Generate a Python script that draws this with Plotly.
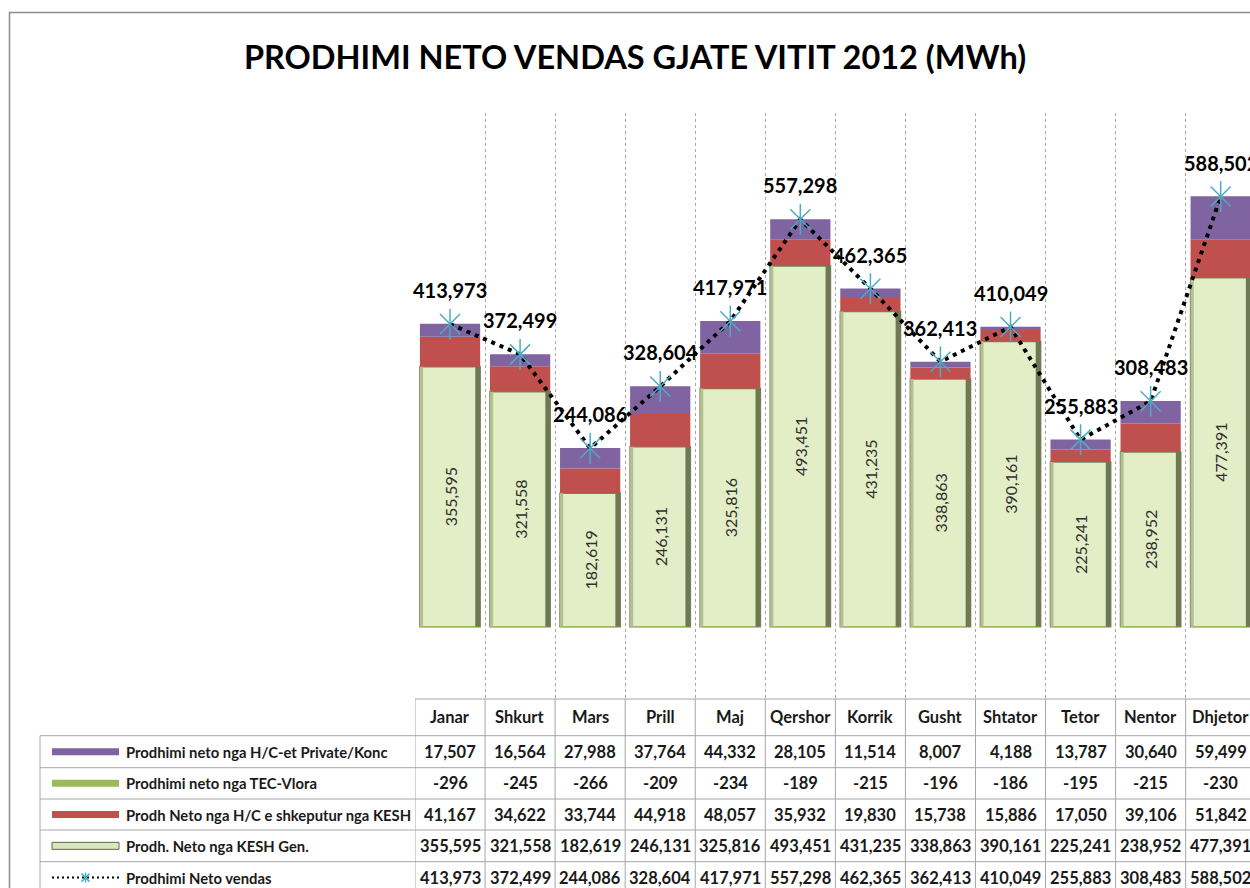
import plotly.graph_objects as go

# ---------------- data ----------------
months = ["Janar", "Shkurt", "Mars", "Prill", "Maj", "Qershor", "Korrik",
          "Gusht", "Shtator", "Tetor", "Nentor", "Dhjetor"]
private_konc = [17507, 16564, 27988, 37764, 44332, 28105, 11514, 8007, 4188, 13787, 30640, 59499]
tec_vlora = [-296, -245, -266, -209, -234, -189, -215, -196, -186, -195, -215, -230]
hc_shkeputur = [41167, 34622, 33744, 44918, 48057, 35932, 19830, 15738, 15886, 17050, 39106, 51842]
kesh_gen = [355595, 321558, 182619, 246131, 325816, 493451, 431235, 338863, 390161, 225241, 238952, 477391]
neto_vendas = [413973, 372499, 244086, 328604, 417971, 557298, 462365, 362413, 410049, 255883, 308483, 588502]

series_names = ["Prodhimi neto nga H/C-et Private/Konc",
                "Prodhimi neto nga TEC-Vlora",
                "Prodh Neto nga H/C e shkeputur nga KESH",
                "Prodh. Neto nga KESH Gen.",
                "Prodhimi Neto vendas"]
table_rows = [private_konc, tec_vlora, hc_shkeputur, kesh_gen, neto_vendas]

title_text = "PRODHIMI NETO VENDAS GJATE VITIT 2012 (MWh)"

# ---------------- styling ----------------
W, H = 1250, 888
FONT = "Lato"
C_PURPLE = "#8064A2"
C_GREEN = "#9BBB59"
C_RED = "#C0504D"
C_KESH = "#E3EEC7"
C_KESH_LINE = "#7A845D"
C_STAR = "#4BACC6"
GRID = "#A6A6A6"
TXT = "#1a1a1a"
BAR_W = 0.86


def py(px):
    return 1 - px / H


def pxx(px):
    return px / W


fmt = lambda v: f"{v:,}"

fig = go.Figure()

# stacked bars (main axes)
fig.add_trace(go.Bar(
    x=months, y=kesh_gen, name=series_names[3], width=BAR_W,
    marker=dict(color=C_KESH, line=dict(color=C_KESH_LINE, width=1.5)),
    text=[fmt(v) for v in kesh_gen], textposition="inside", textangle=-90,
    insidetextanchor="middle", constraintext="none",
    textfont=dict(family=FONT, size=16, color="#303030")))
fig.add_trace(go.Bar(x=months, y=hc_shkeputur, name=series_names[2], width=BAR_W,
                     marker=dict(color=C_RED, line=dict(width=0))))
fig.add_trace(go.Bar(x=months, y=tec_vlora, name=series_names[1], width=BAR_W,
                     marker=dict(color=C_GREEN, line=dict(width=0))))
fig.add_trace(go.Bar(x=months, y=private_konc, name=series_names[0], width=BAR_W,
                     marker=dict(color=C_PURPLE, line=dict(width=0))))

# bevel edges of the KESH bars (each on its own overlay axes so they do not stack)
fig.add_trace(go.Bar(x=months, y=kesh_gen, xaxis="x2", yaxis="y2", width=0.045,
                     offset=-BAR_W / 2, marker=dict(color="#B4BF92", line=dict(width=0)),
                     hoverinfo="skip", showlegend=False))
fig.add_trace(go.Bar(x=months, y=kesh_gen, xaxis="x3", yaxis="y3", width=0.07,
                     offset=BAR_W / 2 - 0.07, marker=dict(color="#6F7853", line=dict(width=0)),
                     hoverinfo="skip", showlegend=False))

fig.add_trace(go.Scatter(
    x=months, y=neto_vendas, name=series_names[4], mode="lines+markers",
    xaxis="x3", yaxis="y3",
    line=dict(color="black", width=4, dash="4px,5px"),
    marker=dict(symbol="x-thin-open", size=20, color=C_STAR,
                line=dict(color=C_STAR, width=1.5))))
fig.add_trace(go.Scatter(
    x=months, y=neto_vendas, mode="markers", showlegend=False, hoverinfo="skip",
    xaxis="x3", yaxis="y3",
    marker=dict(symbol="line-ns-open", size=22, color=C_STAR,
                line=dict(color=C_STAR, width=1.5))))

annotations = []
# total labels above the line points
for m, v in zip(months, neto_vendas):
    annotations.append(dict(x=m, y=v, xref="x", yref="y", text=fmt(v), showarrow=False,
                            yshift=34, xanchor="center", yanchor="middle",
                            font=dict(family=FONT, size=20, color="black", weight="bold")))

# ---------------- data table ----------------
header_top, header_bot = 699, 735.7
row_lines = [735.7, 767.7, 799, 830, 861.7, 893.5]
row_centers = [(row_lines[i] + row_lines[i + 1]) / 2 for i in range(5)]
cell_font = dict(family=FONT, size=16.5, color=TXT, weight="bold")

for i, m in enumerate(months):
    annotations.append(dict(x=i, y=py((header_top + header_bot) / 2), xref="x", yref="paper",
                            text=m, showarrow=False, xanchor="center", yanchor="middle",
                            font=cell_font))
for r, vals in enumerate(table_rows):
    for i, v in enumerate(vals):
        annotations.append(dict(x=i, y=py(row_centers[r]), xref="x", yref="paper",
                                text=fmt(v), showarrow=False, xanchor="center", yanchor="middle",
                                font=cell_font))
    annotations.append(dict(x=pxx(124), y=py(row_centers[r]), xref="paper", yref="paper",
                            text=series_names[r], showarrow=False, xanchor="left", yanchor="middle",
                            font=dict(family=FONT, size=14.8, color=TXT, weight="bold")))

shapes = []
TL = dict(color=GRID, width=1)
shapes.append(dict(type="line", xref="paper", yref="paper", x0=pxx(415), x1=1.02,
                   y0=py(header_top), y1=py(header_top), line=TL))
for yl in row_lines[:-1]:
    shapes.append(dict(type="line", xref="paper", yref="paper", x0=pxx(40), x1=1.02,
                       y0=py(yl), y1=py(yl), line=TL))
shapes.append(dict(type="line", xref="paper", yref="paper", x0=pxx(40), x1=pxx(40),
                   y0=py(header_bot), y1=-0.02, line=TL))
for i in range(len(months) + 1):
    shapes.append(dict(type="line", xref="x", yref="paper", x0=i - 0.5, x1=i - 0.5,
                       y0=py(header_top), y1=-0.02, line=TL))

# legend keys in the first table column
kx0, kx1 = 52, 119
for r, col in enumerate([C_PURPLE, C_GREEN, C_RED]):
    yc = row_centers[r]
    shapes.append(dict(type="rect", xref="paper", yref="paper", x0=pxx(kx0), x1=pxx(kx1),
                       y0=py(yc + 3.5), y1=py(yc - 3.5), fillcolor=col, line=dict(width=0)))
yc = row_centers[3]
shapes.append(dict(type="rect", xref="paper", yref="paper", x0=pxx(kx0), x1=pxx(kx1),
                   y0=py(yc + 3.5), y1=py(yc - 3.5), fillcolor="#D9E6BE",
                   line=dict(color="#5E6848", width=1)))
yc = row_centers[4]
shapes.append(dict(type="line", xref="paper", yref="paper", x0=pxx(kx0), x1=pxx(kx1),
                   y0=py(yc), y1=py(yc), line=dict(color="black", width=2, dash="2px,3px")))
sx, s = (kx0 + kx1) / 2, 4
for dx0, dy0, dx1, dy1 in [(-s, -s, s, s), (-s, s, s, -s), (0, -s - 1, 0, s + 1)]:
    shapes.append(dict(type="line", xref="paper", yref="paper", x0=pxx(sx + dx0), x1=pxx(sx + dx1),
                       y0=py(yc + dy0), y1=py(yc + dy1), line=dict(color=C_STAR, width=1.5)))

# chart area border
shapes.append(dict(type="rect", xref="paper", yref="paper", x0=pxx(9.5), x1=1.05,
                   y0=-0.05, y1=py(12.5), line=dict(color="#8C8C8C", width=1.5),
                   fillcolor="rgba(0,0,0,0)"))

x_dom = [pxx(415), 1]
x_rng = [-0.5, -0.5 + 835 / 70.06]
y_dom = [py(699), py(113)]
y_rng = [-99000, 702800]
hidden = dict(showgrid=False, showticklabels=False, ticks="", zeroline=False, showline=False)

fig.update_layout(
    width=W, height=H, margin=dict(l=0, r=0, t=0, b=0),
    paper_bgcolor="white", plot_bgcolor="white",
    barmode="relative", showlegend=False,
    title=dict(text=title_text, x=635 / W, xanchor="center", y=py(58), yref="container",
               yanchor="middle", font=dict(family=FONT, size=32.5, color="black", weight="bold")),
    xaxis=dict(domain=x_dom, range=x_rng, type="category",
               tickson="boundaries", showgrid=True, gridcolor=GRID, griddash="dot", gridwidth=1,
               showticklabels=False, ticks="", zeroline=False, showline=False),
    yaxis=dict(domain=y_dom, range=y_rng, **hidden),
    xaxis2=dict(domain=x_dom, range=x_rng, type="category", overlaying="x", anchor="y2", **hidden),
    yaxis2=dict(domain=y_dom, range=y_rng, overlaying="y", anchor="x2", **hidden),
    xaxis3=dict(domain=x_dom, range=x_rng, type="category", overlaying="x", anchor="y3", **hidden),
    yaxis3=dict(domain=y_dom, range=y_rng, overlaying="y", anchor="x3", **hidden),
    annotations=annotations, shapes=shapes,
)

fig.write_html("out.html", config={"displayModeBar": False},
               post_script="document.body.style.margin='0px';"
                           "document.documentElement.style.overflow='hidden';"
                           "document.body.style.overflow='hidden';")
